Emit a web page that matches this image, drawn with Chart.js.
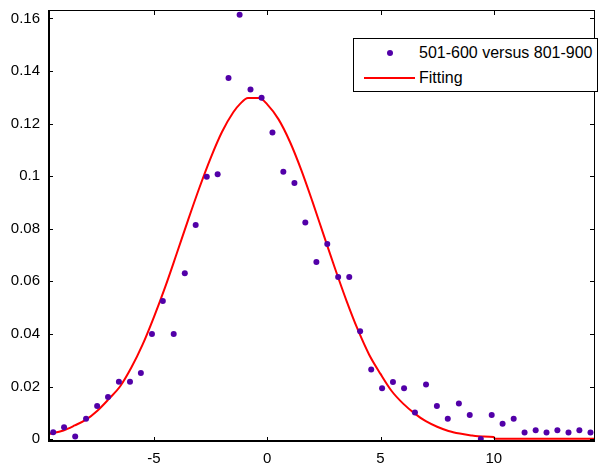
<!DOCTYPE html>
<html>
<head>
<meta charset="utf-8">
<script src="https://cdn.jsdelivr.net/npm/chart.js@4.4.1/dist/chart.umd.min.js"></script>
<style>
  body { margin: 0; background: #fff; }
  #wrap { position: relative; width: 599px; height: 469px; }
  #legend {
    position: absolute; left: 353px; top: 38px; width: 243px; height: 52px;
    border: 1px solid #000; background: #fff;
    font-family: "Liberation Sans", Arial, sans-serif; font-size: 16px; color: #000;
  }
  .row { position: absolute; left: 0; height: 20px; line-height: 20px; }
  .row span.txt { position: absolute; left: 65px; white-space: nowrap; }
  .dot { position: absolute; left: 33px; top: 7px; width: 6px; height: 6px; border-radius: 50%; background: #5200a8; }
  .line { position: absolute; left: 10px; top: 9px; width: 51px; height: 2px; background: #ff0000; }
</style>
</head>
<body>
<div id="wrap">
  <canvas id="myChart" width="599" height="469"></canvas>
  <div id="legend">
    <div class="row" style="top:4px"><span class="dot"></span><span class="txt">501-600 versus 801-900</span></div>
    <div class="row" style="top:29px"><span class="line"></span><span class="txt">Fitting</span></div>
  </div>
</div>
<script>
// measured points (bin centres and relative frequency)
const xVals = [-9.45, -8.97, -8.48, -8.00, -7.51, -7.03, -6.55, -6.06, -5.58, -5.09,
  -4.61, -4.13, -3.64, -3.16, -2.67, -2.19, -1.71, -1.22, -0.74, -0.25,
  0.23, 0.71, 1.20, 1.68, 2.17, 2.65, 3.13, 3.62, 4.10, 4.59,
  5.07, 5.55, 6.04, 6.52, 7.01, 7.49, 7.97, 8.46, 8.94, 9.43,
  9.91, 10.39, 10.88, 11.36, 11.85, 12.33, 12.81, 13.30, 13.78, 14.27];
const yVals = [0.0026, 0.0045, 0.0010, 0.0077, 0.0126, 0.0160, 0.0218, 0.0218, 0.0251, 0.0400,
  0.0525, 0.0400, 0.0631, 0.0814, 0.0998, 0.1007, 0.1373, 0.1614, 0.1330, 0.1298,
  0.1166, 0.1017, 0.0974, 0.0824, 0.0674, 0.0742, 0.0617, 0.0617, 0.0410, 0.0265,
  0.0193, 0.0217, 0.0193, 0.0101, 0.0208, 0.0126, 0.0077, 0.0135, 0.0092, 0.0000,
  0.0092, 0.0058, 0.0077, 0.0025, 0.0034, 0.0025, 0.0034, 0.0025, 0.0034, 0.0025];

// fitted curve
const fitX = [-9.68, -9, -8.5, -8, -7.5, -7, -6.5, -6, -5.5, -5, -4.5, -4, -3.5, -3, -2.5, -2, -1.5, -1.2,
  -0.85, -0.35, 0, 0.5, 1, 1.5, 2, 2.5, 3, 3.5, 4, 4.5, 5, 5.5, 6, 6.5, 7, 7.5, 8, 8.5, 9, 9.5, 10, 10.05, 14.47];
const fitY = [0.0019, 0.0033, 0.0052, 0.0074, 0.0108, 0.0152, 0.0200, 0.0272, 0.0360, 0.0465, 0.0580, 0.0705,
  0.0832, 0.0955, 0.1069, 0.1168, 0.1243, 0.1275, 0.1297, 0.1297, 0.1273, 0.1216, 0.1131, 0.1024, 0.0902,
  0.0774, 0.0647, 0.0526, 0.0416, 0.0321, 0.0248, 0.0182, 0.0135, 0.0098, 0.0068, 0.0047, 0.0031, 0.0021,
  0.0014, 0.0010, 0.0008, 0.0001, 0.0001];

const xTicks = [-5, 0, 5, 10];
const yTicks = [0, 0.02, 0.04, 0.06, 0.08, 0.1, 0.12, 0.14, 0.16];

// matlab style box with inward ticks on all four sides
const boxPlugin = {
  id: 'box',
  afterDatasetsDraw(chart) {
    const { ctx, chartArea: a, scales } = chart;
    ctx.save();
    ctx.strokeStyle = '#000';
    ctx.lineWidth = 1;
    ctx.beginPath();
    xTicks.forEach(v => {
      const px = Math.round(scales.x.getPixelForValue(v)) + 0.5;
      ctx.moveTo(px, a.bottom); ctx.lineTo(px, a.bottom - 5);
      ctx.moveTo(px, a.top); ctx.lineTo(px, a.top + 5);
    });
    yTicks.forEach(v => {
      const py = Math.round(scales.y.getPixelForValue(v)) + 0.5;
      ctx.moveTo(a.left, py); ctx.lineTo(a.left + 5, py);
      ctx.moveTo(a.right, py); ctx.lineTo(a.right - 5, py);
    });
    ctx.stroke();
    ctx.strokeRect(a.left + 0.5, a.top + 0.5, a.right - a.left - 1, a.bottom - a.top - 1);
    ctx.lineWidth = 2;
    ctx.beginPath();
    ctx.moveTo(a.left + 1, a.top); ctx.lineTo(a.left + 1, a.bottom);
    ctx.moveTo(a.left, a.bottom - 1); ctx.lineTo(a.right, a.bottom - 1);
    ctx.stroke();
    ctx.restore();
  }
};

const config = {
  type: 'scatter',
  data: {
    datasets: [{
      label: '501-600 versus 801-900',
      data: xVals.map((x, i) => ({ x: x, y: yVals[i] })),
      backgroundColor: '#5200a8',
      borderColor: '#5200a8',
      pointRadius: 3,
      pointBorderWidth: 0
    }, {
      label: 'Fitting',
      data: fitX.map((x, i) => ({ x: x, y: fitY[i] })),
      showLine: true,
      borderColor: '#ff0000',
      borderWidth: 2,
      pointRadius: 0,
      cubicInterpolationMode: 'monotone'
    }]
  },
  options: {
    responsive: false,
    animation: false,
    layout: { padding: { left: 0, right: 2, top: 10, bottom: 0 } },
    plugins: { legend: { display: false }, tooltip: { enabled: false } },
    scales: {
      x: {
        type: 'linear', min: -9.68, max: 14.47,
        grid: { display: false, drawTicks: false },
        border: { display: false },
        afterBuildTicks: s => { s.ticks = xTicks.map(v => ({ value: v })); },
        afterFit: s => { s.height = 27; s.paddingLeft = 0; s.paddingRight = 0; },
        ticks: {
          padding: 8, color: '#000', maxRotation: 0,
          font: { family: 'Liberation Sans', size: 15 },
          callback: v => String(v)
        }
      },
      y: {
        type: 'linear', min: -0.0011, max: 0.1632,
        grid: { display: false, drawTicks: false },
        border: { display: false },
        afterBuildTicks: s => { s.ticks = yTicks.map(v => ({ value: v })); },
        afterFit: s => { s.width = 48; s.paddingTop = 0; s.paddingBottom = 0; },
        ticks: {
          padding: 8, color: '#000',
          font: { family: 'Liberation Sans', size: 15 },
          callback: v => String(+v.toFixed(2))
        }
      }
    }
  },
  plugins: [boxPlugin]
};

const myChart = new Chart(document.getElementById('myChart'), config);
</script>
</body>
</html>
